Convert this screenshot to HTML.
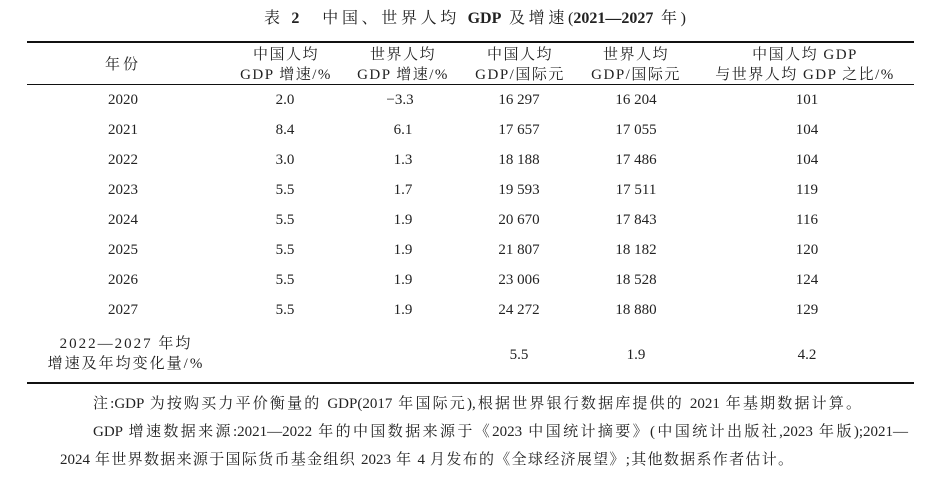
<!DOCTYPE html>
<html><head><meta charset="utf-8"><style>
body{margin:0;width:952px;height:483px;background:#fff;position:relative;overflow:hidden;font-family:"Liberation Serif","Noto Serif CJK SC",serif;font-size:15px;color:#222}
.a{position:absolute;white-space:nowrap;line-height:18px}
.c{transform:translateX(-50%);text-align:center}
.l{position:absolute;left:27px;width:887px;background:#111}
.j{text-align:justify;text-align-last:justify;text-justify:inter-character}
b{font-weight:bold}
</style></head><body>
<div class="a j" style="left:264px;width:422px;top:10px;font-size:16px">表 <b>2</b>&nbsp;&nbsp; 中国、世界人均 <b>GDP</b> 及增速(<b>2021—2027</b> 年)</div>
<div class="l" style="top:41px;height:2px"></div>
<div class="l" style="top:84px;height:1px"></div>
<div class="l" style="top:382px;height:2px"></div>
<div class="a c" style="left:123px;top:56px;letter-spacing:3px">年份</div>
<div class="a c" style="left:286px;top:45px;line-height:20px;letter-spacing:1.5px">中国人均<br>GDP 增速/%</div>
<div class="a c" style="left:403px;top:45px;line-height:20px;letter-spacing:1.5px">世界人均<br>GDP 增速/%</div>
<div class="a c" style="left:520px;top:45px;line-height:20px;letter-spacing:1.5px">中国人均<br>GDP/国际元</div>
<div class="a c" style="left:636px;top:45px;line-height:20px;letter-spacing:1.5px">世界人均<br>GDP/国际元</div>
<div class="a c" style="left:805px;top:45px;line-height:20px;letter-spacing:1.5px">中国人均 GDP<br>与世界人均 GDP 之比/%</div>

<div class="a c" style="left:123px;top:91px">2020</div><div class="a c" style="left:285px;top:91px">2.0</div><div class="a c" style="left:400px;top:91px">−3.3</div><div class="a c" style="left:519px;top:91px">16 297</div><div class="a c" style="left:636px;top:91px">16 204</div><div class="a c" style="left:807px;top:91px">101</div>
<div class="a c" style="left:123px;top:121px">2021</div><div class="a c" style="left:285px;top:121px">8.4</div><div class="a c" style="left:403px;top:121px">6.1</div><div class="a c" style="left:519px;top:121px">17 657</div><div class="a c" style="left:636px;top:121px">17 055</div><div class="a c" style="left:807px;top:121px">104</div>
<div class="a c" style="left:123px;top:151px">2022</div><div class="a c" style="left:285px;top:151px">3.0</div><div class="a c" style="left:403px;top:151px">1.3</div><div class="a c" style="left:519px;top:151px">18 188</div><div class="a c" style="left:636px;top:151px">17 486</div><div class="a c" style="left:807px;top:151px">104</div>
<div class="a c" style="left:123px;top:181px">2023</div><div class="a c" style="left:285px;top:181px">5.5</div><div class="a c" style="left:403px;top:181px">1.7</div><div class="a c" style="left:519px;top:181px">19 593</div><div class="a c" style="left:636px;top:181px">17 511</div><div class="a c" style="left:807px;top:181px">119</div>
<div class="a c" style="left:123px;top:211px">2024</div><div class="a c" style="left:285px;top:211px">5.5</div><div class="a c" style="left:403px;top:211px">1.9</div><div class="a c" style="left:519px;top:211px">20 670</div><div class="a c" style="left:636px;top:211px">17 843</div><div class="a c" style="left:807px;top:211px">116</div>
<div class="a c" style="left:123px;top:241px">2025</div><div class="a c" style="left:285px;top:241px">5.5</div><div class="a c" style="left:403px;top:241px">1.9</div><div class="a c" style="left:519px;top:241px">21 807</div><div class="a c" style="left:636px;top:241px">18 182</div><div class="a c" style="left:807px;top:241px">120</div>
<div class="a c" style="left:123px;top:271px">2026</div><div class="a c" style="left:285px;top:271px">5.5</div><div class="a c" style="left:403px;top:271px">1.9</div><div class="a c" style="left:519px;top:271px">23 006</div><div class="a c" style="left:636px;top:271px">18 528</div><div class="a c" style="left:807px;top:271px">124</div>
<div class="a c" style="left:123px;top:301px">2027</div><div class="a c" style="left:285px;top:301px">5.5</div><div class="a c" style="left:403px;top:301px">1.9</div><div class="a c" style="left:519px;top:301px">24 272</div><div class="a c" style="left:636px;top:301px">18 880</div><div class="a c" style="left:807px;top:301px">129</div>

<div class="a c" style="left:126px;top:334px;line-height:20px;letter-spacing:2px">2022—2027 年均<br>增速及年均变化量/%</div>
<div class="a c" style="left:519px;top:346px">5.5</div><div class="a c" style="left:636px;top:346px">1.9</div><div class="a c" style="left:807px;top:346px">4.2</div>

<div class="a j" style="left:93px;width:768px;top:395px">注:GDP 为按购买力平价衡量的 GDP(2017 年国际元),根据世界银行数据库提供的 2021 年基期数据计算。</div>
<div class="a j" style="left:93px;width:815px;top:423px">GDP 增速数据来源:2021—2022 年的中国数据来源于《2023 中国统计摘要》(中国统计出版社,2023 年版);2021—</div>
<div class="a j" style="left:60px;width:733px;top:451px">2024 年世界数据来源于国际货币基金组织 2023 年 4 月发布的《全球经济展望》;其他数据系作者估计。</div>
</body></html>
